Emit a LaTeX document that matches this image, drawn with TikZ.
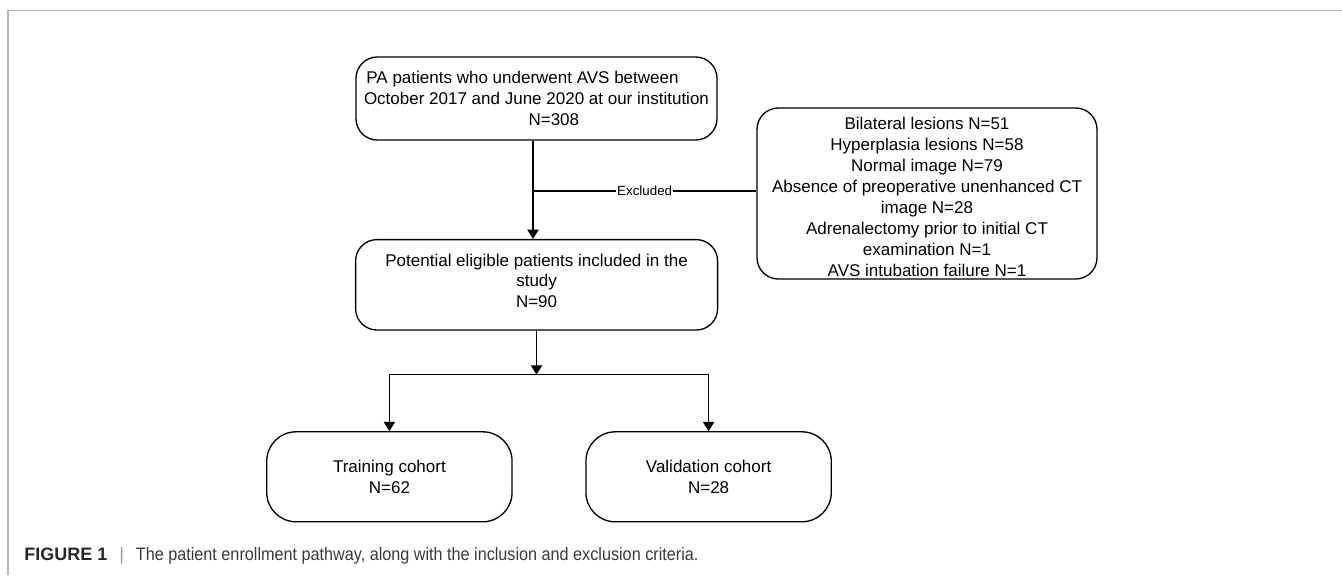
\documentclass[tikz,border=0pt]{standalone}
\usepackage{fontspec}
\setmainfont{Liberation Sans}
\newfontfamily\capfont[FakeStretch=0.9]{Liberation Sans}
\usetikzlibrary{positioning, arrows.meta}
\definecolor{framegray}{HTML}{B4B4B4}
\definecolor{captiongray}{HTML}{3A3A3A}
\definecolor{bargray}{HTML}{9A9A9A}

\begin{document}
\begin{tikzpicture}[
    x=0.75pt, y=-0.75pt,
    box/.style={draw, rounded corners=16pt, line width=1pt, align=center,
                font=\fontsize{12.75pt}{15.5pt}\selectfont, inner sep=0pt},
    cohort/.style={box, rounded corners=22pt, minimum width=184pt,
                   minimum height=67.5pt},
    arrow/.style={-{Triangle[length=7pt, width=8.5pt]}, line width=1pt},
    line/.style={line width=1pt},
    tag/.style={font=\fontsize{10pt}{12pt}\selectfont, fill=white,
                inner sep=1pt},
]
\useasboundingbox (0,0) rectangle (1342,575);

% === Frame ===
\draw[framegray, line width=1.2pt] (8,575) -- (8,10.5) -- (1342,10.5);

% === Screened patients ===
\node[box, minimum width=270.75pt, minimum height=62.25pt] (avs) at (536.5,98.5) {
  PA patients who underwent AVS between\hspace*{21pt}\\
  October 2017 and June 2020 at our institution\\
  \hspace*{26pt}N=308};

% === Exclusions ===
\node[box, minimum width=255pt, minimum height=128.25pt,
      font=\fontsize{12.75pt}{15.75pt}\selectfont] (excl) at (927,193.5) {
  \rule{0pt}{15pt}Bilateral lesions N=51\\
  Hyperplasia lesions N=58\\
  Normal image N=79\\
  Absence of preoperative unenhanced CT\\
  image N=28\\
  Adrenalectomy prior to initial CT\\
  examination N=1\\
  AVS intubation failure N=1};

% === Eligible patients ===
\node[box, minimum width=271.5pt, minimum height=67.8pt] (elig) at (536.6,284.8) {
  Potential eligible patients included in the\\
  study\\
  N=90\rule[-6pt]{0pt}{6pt}};

% === Cohorts ===
\node[cohort] (train) at (389.4,476.8) {Training cohort\\N=62};
\node[cohort] (valid) at (708.6,476.8) {Validation cohort\\N=28};

% === Arrows ===
\coordinate (split) at (533,191);
\coordinate (fork) at (536.5,374.6);

\draw[arrow] (avs.south -| split) -- (elig.north -| split);
\draw[line] (split) -- node[tag] {Excluded} (excl.west |- split);
\draw[arrow] (elig.south -| fork) -- (fork);
\draw[arrow] (fork) -| (train);
\draw[arrow] (fork) -| (valid);

% === Caption ===
\node[anchor=base west, inner sep=0pt, text=captiongray,
      font=\fontsize{13.5pt}{16pt}\selectfont] (caption) at (24,560) {
  \textbf{\color{black!85}FIGURE 1}\hspace{9pt}{\color{bargray}|}\hspace{9pt}{\capfont The
  patient enrollment pathway, along with the inclusion and exclusion criteria.}};

\end{tikzpicture}
\end{document}
